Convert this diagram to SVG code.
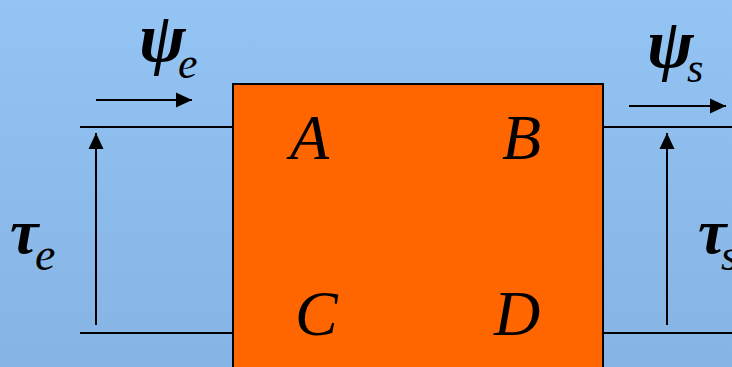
<svg xmlns="http://www.w3.org/2000/svg" width="732" height="367" viewBox="0 0 732 367">
<defs>
<linearGradient id="bg" x1="0" y1="0" x2="0" y2="1">
<stop offset="0" stop-color="#93c4f4"/>
<stop offset="1" stop-color="#86b4e4"/>
</linearGradient>
<marker id="ah" markerUnits="userSpaceOnUse" markerWidth="16" markerHeight="16" viewBox="0 0 16 16" refX="16" refY="8" orient="auto">
<path d="M0,0.5 L16,8 L0,15.5 Z" fill="#000"/>
</marker>
</defs>
<style>
.ln{stroke:#000;stroke-width:2;fill:none}
.ar{stroke:#000;stroke-width:2;fill:none;marker-end:url(#ah)}
.m{font-family:"Liberation Serif","Times New Roman",serif;font-style:italic;fill:#000}
.g{font-weight:bold}
</style>
<rect width="732" height="367" fill="url(#bg)"/>
<g id="block">
<rect x="233" y="84" width="370" height="300" fill="#ff6600" stroke="#000" stroke-width="2"/>
<text class="m" x="290" y="159" font-size="64">A</text>
<text class="m" x="502" y="159" font-size="64">B</text>
<text class="m" x="295" y="335" font-size="64">C</text>
<text class="m" x="494" y="335" font-size="64">D</text>
</g>
<g id="connectors">
<line class="ln" x1="80" y1="127" x2="233" y2="127"/>
<line class="ln" x1="80" y1="333" x2="233" y2="333"/>
<line class="ln" x1="603" y1="127" x2="732" y2="127"/>
<line class="ln" x1="603" y1="333" x2="732" y2="333"/>
<line class="ar" x1="96" y1="325" x2="96" y2="133"/>
<line class="ar" x1="667" y1="325" x2="667" y2="133"/>
<line class="ar" x1="96" y1="100" x2="192" y2="100"/>
<line class="ar" x1="629" y1="106" x2="726" y2="106"/>
</g>
<g id="labels">
<text class="m g" x="139" y="61" font-size="70">ψ</text>
<text class="m" x="178" y="78" font-size="44">e</text>
<text class="m g" x="647" y="67" font-size="70">ψ</text>
<text class="m" x="687" y="82" font-size="42">s</text>
<text class="m g" x="10" y="253" font-size="64">τ</text>
<text class="m" x="35" y="270" font-size="46">e</text>
<text class="m g" x="698" y="253" font-size="64">τ</text>
<text class="m" x="721" y="270" font-size="44">s</text>
</g>
</svg>
